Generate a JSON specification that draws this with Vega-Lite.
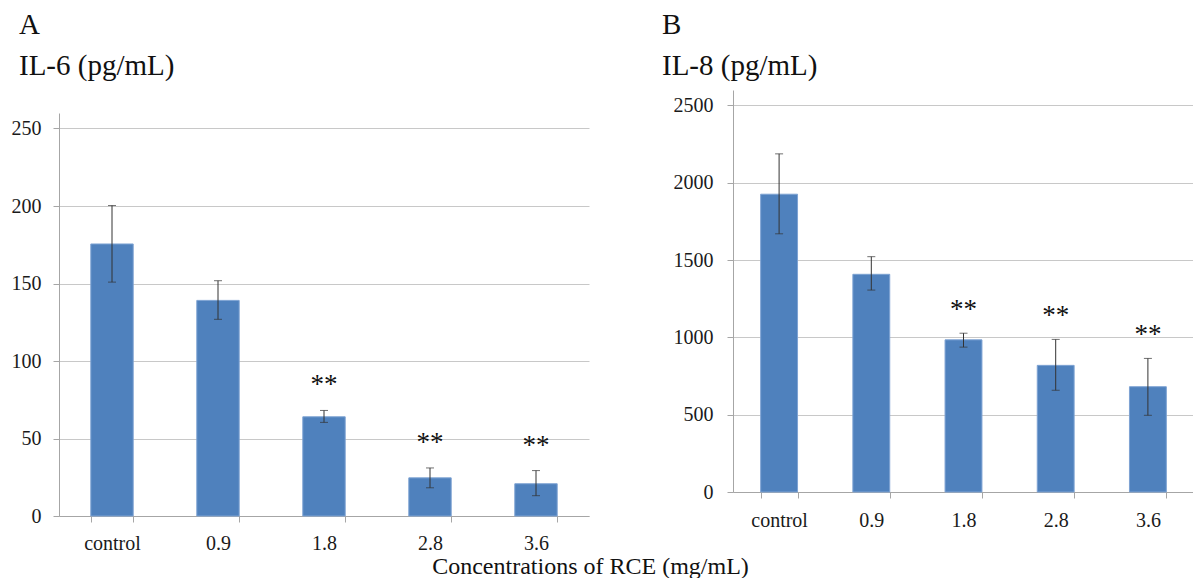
{
  "$schema": "https://vega.github.io/schema/vega-lite/v6.json",
  "padding": {"left": 11, "right": 0, "top": 11, "bottom": 2},
  "config": {
    "view": {"stroke": null},
    "font": "Liberation Serif",
    "axis": {
      "labelFont": "Liberation Serif",
      "labelFontSize": 20,
      "labelColor": "#1a1a1a",
      "gridColor": "#c8c8c8",
      "domainColor": "#a6a6a6",
      "tickColor": "#a6a6a6",
      "tickSize": 6
    },
    "title": {"font": "Liberation Serif", "fontWeight": "normal", "color": "#111", "subtitleColor": "#111", "subtitleFont": "Liberation Serif"}
  },
  "title": {
    "text": "Concentrations of RCE (mg/mL)",
    "orient": "bottom",
    "anchor": "middle",
    "fontSize": 24,
    "offset": 2,
    "dx": -12
  },
  "spacing": 73,
  "hconcat": [
    {
      "width": 530,
      "height": 426,
      "title": {"text": "A", "subtitle": "IL-6 (pg/mL)", "anchor": "start", "frame": "bounds", "fontSize": 29, "subtitleFontSize": 29, "subtitlePadding": 12, "offset": 9, "dx": 8},
      "data": {"values": [
        {"conc": "control", "mean": 175.5, "lo": 150.9, "hi": 200.3, "sig": ""},
        {"conc": "0.9", "mean": 139.1, "lo": 126.9, "hi": 151.8, "sig": ""},
        {"conc": "1.8", "mean": 64.0, "lo": 60.4, "hi": 68.1, "sig": "**"},
        {"conc": "2.8", "mean": 24.6, "lo": 18.2, "hi": 31.0, "sig": "**"},
        {"conc": "3.6", "mean": 20.8, "lo": 13.1, "hi": 29.3, "sig": "**"}
      ]},
      "encoding": {
        "x": {"field": "conc", "type": "nominal", "sort": null, "title": null,
              "scale": {"paddingInner": 0.6, "paddingOuter": 0.3},
              "axis": {"labelAngle": 0, "tickBand": "extent", "grid": false, "labelPadding": 11}}
      },
      "layer": [
        {
          "mark": {"type": "bar", "color": "#4f81bd", "stroke": "#7ea3d3", "strokeWidth": 1},
          "encoding": {"y": {"field": "mean", "type": "quantitative", "title": null,
                             "scale": {"domain": [0, 250], "range": [426, 23]},
                             "axis": {"values": [0, 50, 100, 150, 200, 250], "format": "d", "labelPadding": 12}}}
        },
        {
          "mark": {"type": "errorbar", "color": "#333", "ticks": {"size": 8, "color": "#333"}, "thickness": 1},
          "encoding": {"y": {"field": "lo", "type": "quantitative", "title": null}, "y2": {"field": "hi"}}
        },
        {
          "mark": {"type": "text", "baseline": "middle", "dy": -25, "fontSize": 27, "font": "Liberation Serif", "color": "#111"},
          "encoding": {"y": {"field": "hi", "type": "quantitative", "title": null}, "text": {"field": "sig"}}
        }
      ]
    },
    {
      "width": 461,
      "height": 402,
      "title": {"text": "B", "subtitle": "IL-8 (pg/mL)", "anchor": "start", "frame": "bounds", "fontSize": 29, "subtitleFontSize": 29, "subtitlePadding": 12, "offset": 9, "dx": -11},
      "data": {"values": [
        {"conc": "control", "mean": 1926, "lo": 1670, "hi": 2187, "sig": ""},
        {"conc": "0.9", "mean": 1408, "lo": 1306, "hi": 1522, "sig": ""},
        {"conc": "1.8", "mean": 984, "lo": 937, "hi": 1027, "sig": "**"},
        {"conc": "2.8", "mean": 819, "lo": 658, "hi": 987, "sig": "**"},
        {"conc": "3.6", "mean": 681, "lo": 496, "hi": 864, "sig": "**"}
      ]},
      "encoding": {
        "x": {"field": "conc", "type": "nominal", "sort": null, "title": null,
              "scale": {"paddingInner": 0.6, "paddingOuter": 0.3},
              "axis": {"labelAngle": 0, "tickBand": "extent", "grid": false, "labelPadding": 12}}
      },
      "layer": [
        {
          "mark": {"type": "bar", "color": "#4f81bd", "stroke": "#7ea3d3", "strokeWidth": 1},
          "encoding": {"y": {"field": "mean", "type": "quantitative", "title": null,
                             "scale": {"domain": [0, 2500]},
                             "axis": {"values": [0, 500, 1000, 1500, 2000, 2500], "format": "d", "labelPadding": 14}}}
        },
        {
          "mark": {"type": "errorbar", "color": "#333", "ticks": {"size": 8, "color": "#333"}, "thickness": 1},
          "encoding": {"y": {"field": "lo", "type": "quantitative", "title": null}, "y2": {"field": "hi"}}
        },
        {
          "mark": {"type": "text", "baseline": "middle", "dy": -23, "fontSize": 27, "font": "Liberation Serif", "color": "#111"},
          "encoding": {"y": {"field": "hi", "type": "quantitative", "title": null}, "text": {"field": "sig"}}
        }
      ]
    }
  ]
}
